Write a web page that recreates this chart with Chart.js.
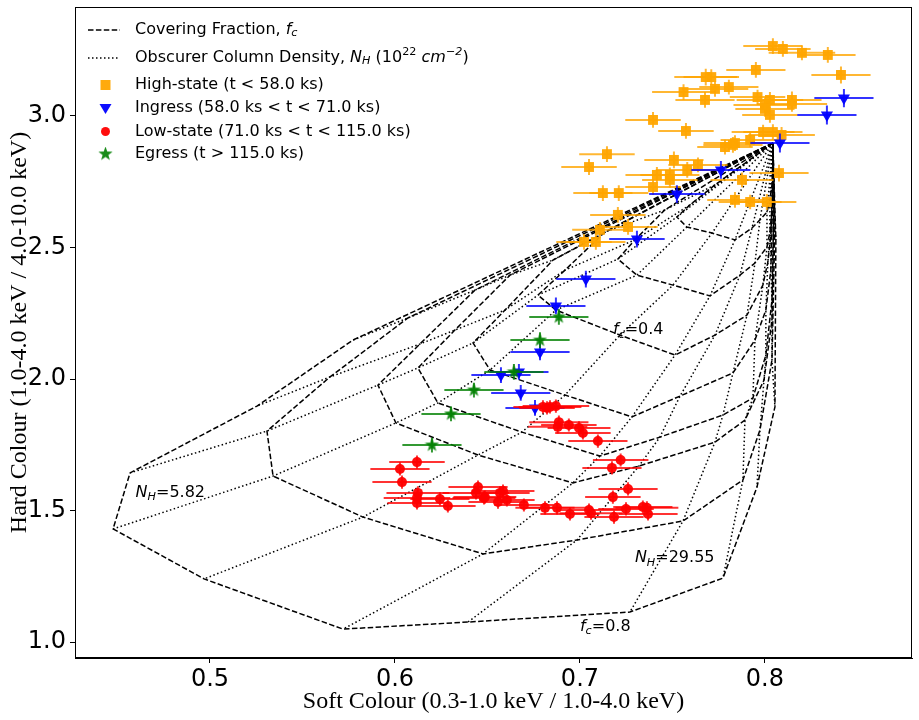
<!DOCTYPE html>
<html>
<head>
<meta charset="utf-8">
<title>Colour-colour diagram</title>
<script src="https://cdn.jsdelivr.net/npm/chart.js@4.4.0/dist/chart.umd.min.js"></script>
<style>
  html, body { margin: 0; padding: 0; background: #fff; }
  #wrap { width: 919px; height: 720px; }
</style>
</head>
<body>
<div id="wrap"><canvas id="chart" width="919" height="720"></canvas></div>
<script>
// Partial covering model grid: each row is one covering fraction, columns go up in N_H.
// Every row starts and ends at the unobscured point (N_H = 0 / very large N_H).
const apexSoft = 0.8043;
const apexHard = 2.897;

const gridSoft01 = [0.7730, 0.7595, 0.7524, 0.7578, 0.7714, 0.7838, 0.7930, 0.7973, 0.8011, 0.8027, 0.8038, 0.8043];
const gridHard01 = [2.738, 2.662, 2.616, 2.578, 2.555, 2.529, 2.574, 2.605, 2.635, 2.681, 2.738, 2.833];
const gridSoft02 = [0.7459, 0.7297, 0.7205, 0.7308, 0.7503, 0.7703, 0.7865, 0.7946, 0.8011, 0.8027, 0.8038, 0.8043];
const gridHard02 = [2.643, 2.529, 2.456, 2.395, 2.357, 2.316, 2.395, 2.441, 2.502, 2.559, 2.643, 2.795];
const gridSoft03 = [0.7135, 0.6919, 0.6773, 0.6870, 0.7216, 0.7514, 0.7730, 0.7903, 0.7989, 0.8016, 0.8032, 0.8043];
const gridHard03 = [2.559, 2.414, 2.319, 2.262, 2.167, 2.091, 2.167, 2.243, 2.357, 2.445, 2.548, 2.757];
const gridSoft04 = [0.6854, 0.6595, 0.6422, 0.6514, 0.6919, 0.7281, 0.7541, 0.7827, 0.7946, 0.8005, 0.8032, 0.8043];
const gridHard04 = [2.452, 2.262, 2.137, 2.034, 1.939, 1.856, 1.935, 2.023, 2.148, 2.262, 2.414, 2.719];
const gridSoft05 = [0.6622, 0.6324, 0.6124, 0.6232, 0.6686, 0.7108, 0.7432, 0.7773, 0.7935, 0.8005, 0.8038, 0.8049];
const gridHard05 = [2.395, 2.186, 2.042, 1.909, 1.798, 1.707, 1.779, 1.863, 1.928, 2.091, 2.300, 2.681];
const gridSoft06 = [0.6432, 0.6135, 0.5908, 0.6005, 0.6449, 0.6962, 0.7319, 0.7730, 0.7892, 0.7995, 0.8038, 0.8049];
const gridHard06 = [2.338, 2.133, 1.977, 1.833, 1.711, 1.605, 1.669, 1.760, 1.844, 1.996, 2.224, 2.643];
const gridSoft07 = [0.6070, 0.5649, 0.5308, 0.5341, 0.5827, 0.6476, 0.6984, 0.7557, 0.7881, 0.7973, 0.8038, 0.8054];
const gridHard07 = [2.232, 2.008, 1.802, 1.631, 1.475, 1.335, 1.388, 1.460, 1.616, 1.806, 2.072, 2.586];
const gridSoft08 = [0.5773, 0.5254, 0.4568, 0.4476, 0.4968, 0.5719, 0.6395, 0.7270, 0.7773, 0.7957, 0.8054, 0.8059];
const gridHard08 = [2.148, 1.897, 1.643, 1.430, 1.240, 1.049, 1.076, 1.114, 1.243, 1.589, 1.894, 2.529];

// rows ordered from low to high covering fraction
const gridRows = [
    [gridSoft01, gridHard01], [gridSoft02, gridHard02], [gridSoft03, gridHard03], [gridSoft04, gridHard04],
    [gridSoft05, gridHard05], [gridSoft06, gridHard06], [gridSoft07, gridHard07], [gridSoft08, gridHard08]
];

// where the grid labels sit (soft, hard)
const gridLabelPos = {
    nhLow:  [0.4598, 1.552],
    nhHigh: [0.7297, 1.303],
    fcMid:  [0.7178, 2.170],
    fcHigh: [0.7000, 1.042]
};

// High-state (t < 58 ks)
const highSoft = [0.8043, 0.8097, 0.8200, 0.8340, 0.8411, 0.7951, 0.7680, 0.7710, 0.7805, 0.7730,
                  0.7560, 0.7676, 0.7960, 0.8027, 0.8146, 0.8146, 0.8000, 0.8000, 0.8027, 0.7395,
                  0.7573, 0.7990, 0.8043, 0.8090, 0.7920, 0.7838, 0.7784, 0.7827, 0.7146, 0.7049,
                  0.7508, 0.7416, 0.7486, 0.7486, 0.7580, 0.7638, 0.7395, 0.8076, 0.7876, 0.7124,
                  0.7210, 0.7838, 0.7920, 0.8010, 0.7205, 0.7260, 0.7108, 0.7022, 0.7086];
const highHard = [3.266, 3.255, 3.240, 3.232, 3.156, 3.175, 3.148, 3.148, 3.110, 3.103,
                  3.091, 3.061, 3.072, 3.061, 3.061, 3.046, 3.042, 3.027, 3.004, 2.985,
                  2.943, 2.939, 2.939, 2.928, 2.909, 2.897, 2.882, 2.890, 2.855, 2.806,
                  2.833, 2.776, 2.776, 2.757, 2.795, 2.814, 2.730, 2.783, 2.757, 2.707,
                  2.707, 2.681, 2.673, 2.673, 2.624, 2.578, 2.567, 2.521, 2.521];
const highSoftErr = [0.016, 0.015, 0.018, 0.015, 0.016, 0.016, 0.017, 0.015, 0.016, 0.018,
                     0.017, 0.016, 0.015, 0.018, 0.016, 0.019, 0.017, 0.016, 0.015, 0.015,
                     0.015, 0.017, 0.016, 0.018, 0.016, 0.017, 0.015, 0.016, 0.015, 0.015,
                     0.016, 0.017, 0.016, 0.015, 0.017, 0.016, 0.015, 0.016, 0.017, 0.016,
                     0.016, 0.015, 0.017, 0.016, 0.015, 0.016, 0.015, 0.015, 0.016];
const highHardErr = [0.030, 0.030, 0.028, 0.030, 0.032, 0.030, 0.032, 0.030, 0.028, 0.030,
                     0.030, 0.030, 0.028, 0.030, 0.032, 0.030, 0.028, 0.030, 0.030, 0.030,
                     0.030, 0.028, 0.030, 0.030, 0.028, 0.030, 0.028, 0.030, 0.030, 0.030,
                     0.032, 0.030, 0.028, 0.030, 0.030, 0.028, 0.030, 0.032, 0.028, 0.030,
                     0.030, 0.030, 0.028, 0.030, 0.030, 0.030, 0.030, 0.030, 0.030];

// Ingress (58 ks < t < 71 ks)
const ingressSoft = [0.8427, 0.8335, 0.8081, 0.7762, 0.7524, 0.7308, 0.7032, 0.6870, 0.6784, 0.6670, 0.6573, 0.6680, 0.6757];
const ingressHard = [3.068, 3.004, 2.897, 2.795, 2.703, 2.532, 2.380, 2.278, 2.103, 2.027, 2.015, 1.947, 1.890];
const ingressSoftErr = [0.016, 0.016, 0.016, 0.016, 0.015, 0.015, 0.016, 0.016, 0.016, 0.016, 0.016, 0.016, 0.016];
const ingressHardErr = [0.035, 0.036, 0.036, 0.034, 0.034, 0.032, 0.032, 0.032, 0.032, 0.030, 0.030, 0.030, 0.030];

// Low-state (71 ks < t < 115 ks)
const lowSoft = [0.6800, 0.6838, 0.6870, 0.6822, 0.6886, 0.6940, 0.6880, 0.6995, 0.7016, 0.7097,
                 0.7220, 0.7173, 0.6119, 0.6027, 0.6038, 0.7260, 0.7178, 0.6124, 0.6119, 0.6119,
                 0.6243, 0.6286, 0.6449, 0.6584, 0.6568, 0.6438, 0.6481, 0.6557, 0.6605, 0.6697,
                 0.6811, 0.6876, 0.6946, 0.7049, 0.7060, 0.7184, 0.7249, 0.7340, 0.7362, 0.7368, 0.6486];
const lowHard = [1.894, 1.894, 1.897, 1.890, 1.836, 1.825, 1.818, 1.814, 1.795, 1.764,
                 1.692, 1.662, 1.684, 1.658, 1.608, 1.582, 1.551, 1.567, 1.548, 1.529,
                 1.544, 1.517, 1.589, 1.574, 1.567, 1.567, 1.548, 1.532, 1.540, 1.521,
                 1.510, 1.510, 1.487, 1.502, 1.490, 1.475, 1.506, 1.513, 1.510, 1.487, 1.551];
const lowSoftErr = [0.016, 0.017, 0.018, 0.015, 0.016, 0.015, 0.016, 0.017, 0.015, 0.016,
                    0.015, 0.016, 0.015, 0.016, 0.016, 0.016, 0.015, 0.017, 0.018, 0.016,
                    0.016, 0.015, 0.016, 0.017, 0.016, 0.018, 0.017, 0.016, 0.015, 0.016,
                    0.016, 0.017, 0.016, 0.018, 0.017, 0.016, 0.015, 0.016, 0.017, 0.016, 0.017];
const lowHardErr = [0.025, 0.025, 0.025, 0.025, 0.025, 0.025, 0.025, 0.025, 0.025, 0.025,
                    0.025, 0.025, 0.025, 0.025, 0.025, 0.025, 0.025, 0.025, 0.025, 0.025,
                    0.025, 0.025, 0.025, 0.025, 0.025, 0.025, 0.025, 0.025, 0.025, 0.025,
                    0.025, 0.025, 0.025, 0.025, 0.025, 0.025, 0.025, 0.025, 0.025, 0.025, 0.025];

// Egress (t > 115 ks)
const egressSoft = [0.6886, 0.6784, 0.6643, 0.6427, 0.6303, 0.6200];
const egressHard = [2.236, 2.148, 2.027, 1.958, 1.867, 1.749];
const egressSoftErr = [0.016, 0.016, 0.016, 0.016, 0.016, 0.016];
const egressHardErr = [0.030, 0.030, 0.030, 0.028, 0.028, 0.028];

const xTicks = [0.5, 0.6, 0.7, 0.8];
const yTicks = [1.0, 1.5, 2.0, 2.5, 3.0];

function toPoints(xs, ys) {
    return xs.map((x, i) => ({ x: x, y: ys[i] }));
}

// filled five-point star like matplotlib's '*'
function makeStar(size, color) {
    const c = document.createElement('canvas');
    c.width = size; c.height = size;
    const g = c.getContext('2d');
    g.fillStyle = color;
    g.beginPath();
    for (let i = 0; i < 10; i++) {
        const r = i % 2 === 0 ? size / 2 : size / 5;
        const a = -Math.PI / 2 + i * Math.PI / 5;
        g.lineTo(size / 2 + r * Math.cos(a), size / 2 + r * Math.sin(a));
    }
    g.closePath();
    g.fill();
    return c;
}
const starImg = makeStar(15, 'rgba(0,128,0,0.9)');

const DASH = [5.5, 2.4];
const DOT = [1.5, 2.5];

// build grid line datasets
const datasets = [];
gridRows.forEach(row => {
    const pts = [{ x: apexSoft, y: apexHard }].concat(toPoints(row[0], row[1]), [{ x: apexSoft, y: apexHard }]);
    datasets.push({ data: pts, showLine: true, pointRadius: 0, borderColor: '#000', borderWidth: 1.5,
                    borderDash: DASH, fill: false, tension: 0, order: 10 });
});
for (let j = 0; j < gridSoft08.length; j++) {
    const pts = [{ x: apexSoft, y: apexHard }];
    gridRows.forEach(row => pts.push({ x: row[0][j], y: row[1][j] }));
    datasets.push({ data: pts, showLine: true, pointRadius: 0, borderColor: '#000', borderWidth: 1.5,
                    borderDash: DOT, fill: false, tension: 0, order: 11 });
}

datasets.push({
    label: 'High-state (t < 58.0 ks)', data: toPoints(highSoft, highHard),
    xErr: highSoftErr, yErr: highHardErr, errColor: 'rgba(255,165,0,0.8)',
    pointStyle: 'rect', pointRadius: 7, backgroundColor: 'rgba(255,165,0,0.95)', borderWidth: 0, order: 4
});
datasets.push({
    label: 'Ingress (58.0 ks < t < 71.0 ks)', data: toPoints(ingressSoft, ingressHard),
    xErr: ingressSoftErr, yErr: ingressHardErr, errColor: 'rgba(0,0,255,0.8)',
    pointStyle: 'triangle', rotation: 180, pointRadius: 7, backgroundColor: 'rgba(0,0,255,0.95)', borderWidth: 0, order: 3
});
datasets.push({
    label: 'Low-state (71.0 ks < t < 115.0 ks)', data: toPoints(lowSoft, lowHard),
    xErr: lowSoftErr, yErr: lowHardErr, errColor: 'rgba(255,0,0,0.8)',
    pointStyle: 'circle', pointRadius: 5, backgroundColor: 'rgba(255,0,0,0.95)', borderWidth: 0, order: 2
});
datasets.push({
    label: 'Egress (t > 115.0 ks)', data: toPoints(egressSoft, egressHard),
    xErr: egressSoftErr, yErr: egressHardErr, errColor: 'rgba(0,128,0,0.8)',
    pointStyle: starImg, pointRadius: 6, backgroundColor: 'rgba(0,128,0,0.95)', borderWidth: 0, order: 1
});

// error bars drawn just before each series' markers
const errorBars = {
    id: 'errorBars',
    beforeDatasetDraw(chart, args) {
        const ds = chart.data.datasets[args.index];
        if (!ds.xErr) return;
        const xs = chart.scales.x, ys = chart.scales.y, ctx = chart.ctx;
        ctx.save();
        ctx.strokeStyle = ds.errColor;
        ctx.lineWidth = 2;
        ds.data.forEach((p, i) => {
            const px = xs.getPixelForValue(p.x), py = ys.getPixelForValue(p.y);
            ctx.beginPath();
            ctx.moveTo(xs.getPixelForValue(p.x - ds.xErr[i]), py);
            ctx.lineTo(xs.getPixelForValue(p.x + ds.xErr[i]), py);
            ctx.moveTo(px, ys.getPixelForValue(p.y - ds.yErr[i]));
            ctx.lineTo(px, ys.getPixelForValue(p.y + ds.yErr[i]));
            ctx.stroke();
        });
        ctx.restore();
    }
};

// text with italic / sub / superscript parts
function drawRich(ctx, x, y, parts, size) {
    let cx = x;
    parts.forEach(p => {
        const s = (p.sub || p.sup) ? size * 0.7 : size;
        const dy = p.sub ? size * 0.22 : (p.sup ? -size * 0.38 : 0);
        ctx.font = (p.it ? 'italic ' : '') + s + 'px "DejaVu Sans"';
        ctx.fillText(p.t, cx, y + dy);
        cx += ctx.measureText(p.t).width;
    });
}

const fcText = v => [{ t: 'f', it: true }, { t: 'c', it: true, sub: true }, { t: '=' + v }];
const nhText = v => [{ t: 'N', it: true }, { t: 'H', it: true, sub: true }, { t: '=' + v }];

const decorations = {
    id: 'decorations',
    afterDraw(chart) {
        const ctx = chart.ctx, a = chart.chartArea;
        const xs = chart.scales.x, ys = chart.scales.y;
        ctx.save();
        // frame
        ctx.strokeStyle = '#000';
        ctx.lineWidth = 1;
        ctx.strokeRect(a.left + 0.5, a.top + 0.5, a.right - a.left - 1, a.bottom - a.top - 1);

        // grid labels
        ctx.fillStyle = '#000';
        ctx.textBaseline = 'alphabetic';
        ctx.textAlign = 'left';
        const put = (pos, parts) => drawRich(ctx, xs.getPixelForValue(pos[0]), ys.getPixelForValue(pos[1]), parts, 16);
        put(gridLabelPos.nhLow, nhText('5.82'));
        put(gridLabelPos.nhHigh, nhText('29.55'));
        put(gridLabelPos.fcMid, fcText('0.4'));
        put(gridLabelPos.fcHigh, fcText('0.8'));

        // legend
        const lx0 = a.left + 13, lx1 = a.left + 45, mx = a.left + 30.5, tx = a.left + 60;
        const rows = [a.top + 23, a.top + 51, a.top + 78, a.top + 101, a.top + 124.5, a.top + 147];
        ctx.lineWidth = 1.5;
        ctx.setLineDash(DASH);
        ctx.beginPath(); ctx.moveTo(lx0, rows[0]); ctx.lineTo(lx1, rows[0]); ctx.stroke();
        ctx.setLineDash(DOT);
        ctx.beginPath(); ctx.moveTo(lx0, rows[1]); ctx.lineTo(lx1, rows[1]); ctx.stroke();
        ctx.setLineDash([]);

        ctx.fillStyle = 'rgba(255,165,0,0.95)';
        ctx.fillRect(mx - 5, rows[2] - 5, 10, 10);
        ctx.fillStyle = 'rgba(0,0,255,0.95)';
        ctx.beginPath(); ctx.moveTo(mx - 6, rows[3] - 4); ctx.lineTo(mx + 6, rows[3] - 4); ctx.lineTo(mx, rows[3] + 6); ctx.closePath(); ctx.fill();
        ctx.fillStyle = 'rgba(255,0,0,0.95)';
        ctx.beginPath(); ctx.arc(mx, rows[4], 4.5, 0, Math.PI * 2); ctx.fill();
        ctx.drawImage(starImg, mx - 7.5, rows[5] - 7.5);

        ctx.fillStyle = '#000';
        ctx.textBaseline = 'middle';
        drawRich(ctx, tx, rows[0], [{ t: 'Covering Fraction, ' }, { t: 'f', it: true }, { t: 'c', it: true, sub: true }], 16);
        drawRich(ctx, tx, rows[1], [{ t: 'Obscurer Column Density, ' }, { t: 'N', it: true }, { t: 'H', it: true, sub: true },
            { t: ' (10' }, { t: '22', sup: true }, { t: ' ' }, { t: 'cm', it: true }, { t: '\u22122', it: true, sup: true }, { t: ')' }], 16);
        const series = chart.data.datasets.filter(d => d.label);
        series.forEach((d, i) => drawRich(ctx, tx, rows[2 + i], [{ t: d.label }], 16));

        // axis titles
        ctx.font = '24px "Liberation Serif"';
        ctx.textAlign = 'center';
        ctx.textBaseline = 'alphabetic';
        ctx.fillText('Soft Colour (0.3-1.0 keV / 1.0-4.0 keV)', (a.left + a.right) / 2, 708);
        ctx.translate(26, (a.top + a.bottom) / 2);
        ctx.rotate(-Math.PI / 2);
        ctx.fillText('Hard Colour (1.0-4.0 keV / 4.0-10.0 keV)', 0, 0);
        ctx.restore();
    }
};

new Chart(document.getElementById('chart'), {
    type: 'scatter',
    data: { datasets: datasets },
    plugins: [errorBars, decorations],
    options: {
        responsive: false,
        animation: false,
        devicePixelRatio: 1,
        layout: { padding: { top: 7, right: 7, left: 0, bottom: 0 } },
        plugins: { legend: { display: false }, tooltip: { enabled: false } },
        scales: {
            x: {
                type: 'linear', min: 0.42703, max: 0.8795,
                afterBuildTicks: s => { s.ticks = xTicks.map(v => ({ value: v })); },
                afterFit: s => { s.height = 62; s.paddingLeft = 0; s.paddingRight = 0; },
                grid: { drawOnChartArea: false, tickLength: 5, color: '#000' },
                border: { color: '#000' },
                ticks: { color: '#000', font: { family: 'DejaVu Sans', size: 24 }, padding: 2, maxRotation: 0,
                         callback: v => v.toFixed(1) }
            },
            y: {
                type: 'linear', min: 0.9392, max: 3.4144,
                afterBuildTicks: s => { s.ticks = yTicks.map(v => ({ value: v })); },
                afterFit: s => { s.width = 75; s.paddingTop = 0; s.paddingBottom = 0; },
                grid: { drawOnChartArea: false, tickLength: 5, color: '#000' },
                border: { color: '#000' },
                ticks: { color: '#000', font: { family: 'DejaVu Sans', size: 24 }, padding: 4,
                         callback: v => v.toFixed(1) }
            }
        }
    }
});
</script>
</body>
</html>
